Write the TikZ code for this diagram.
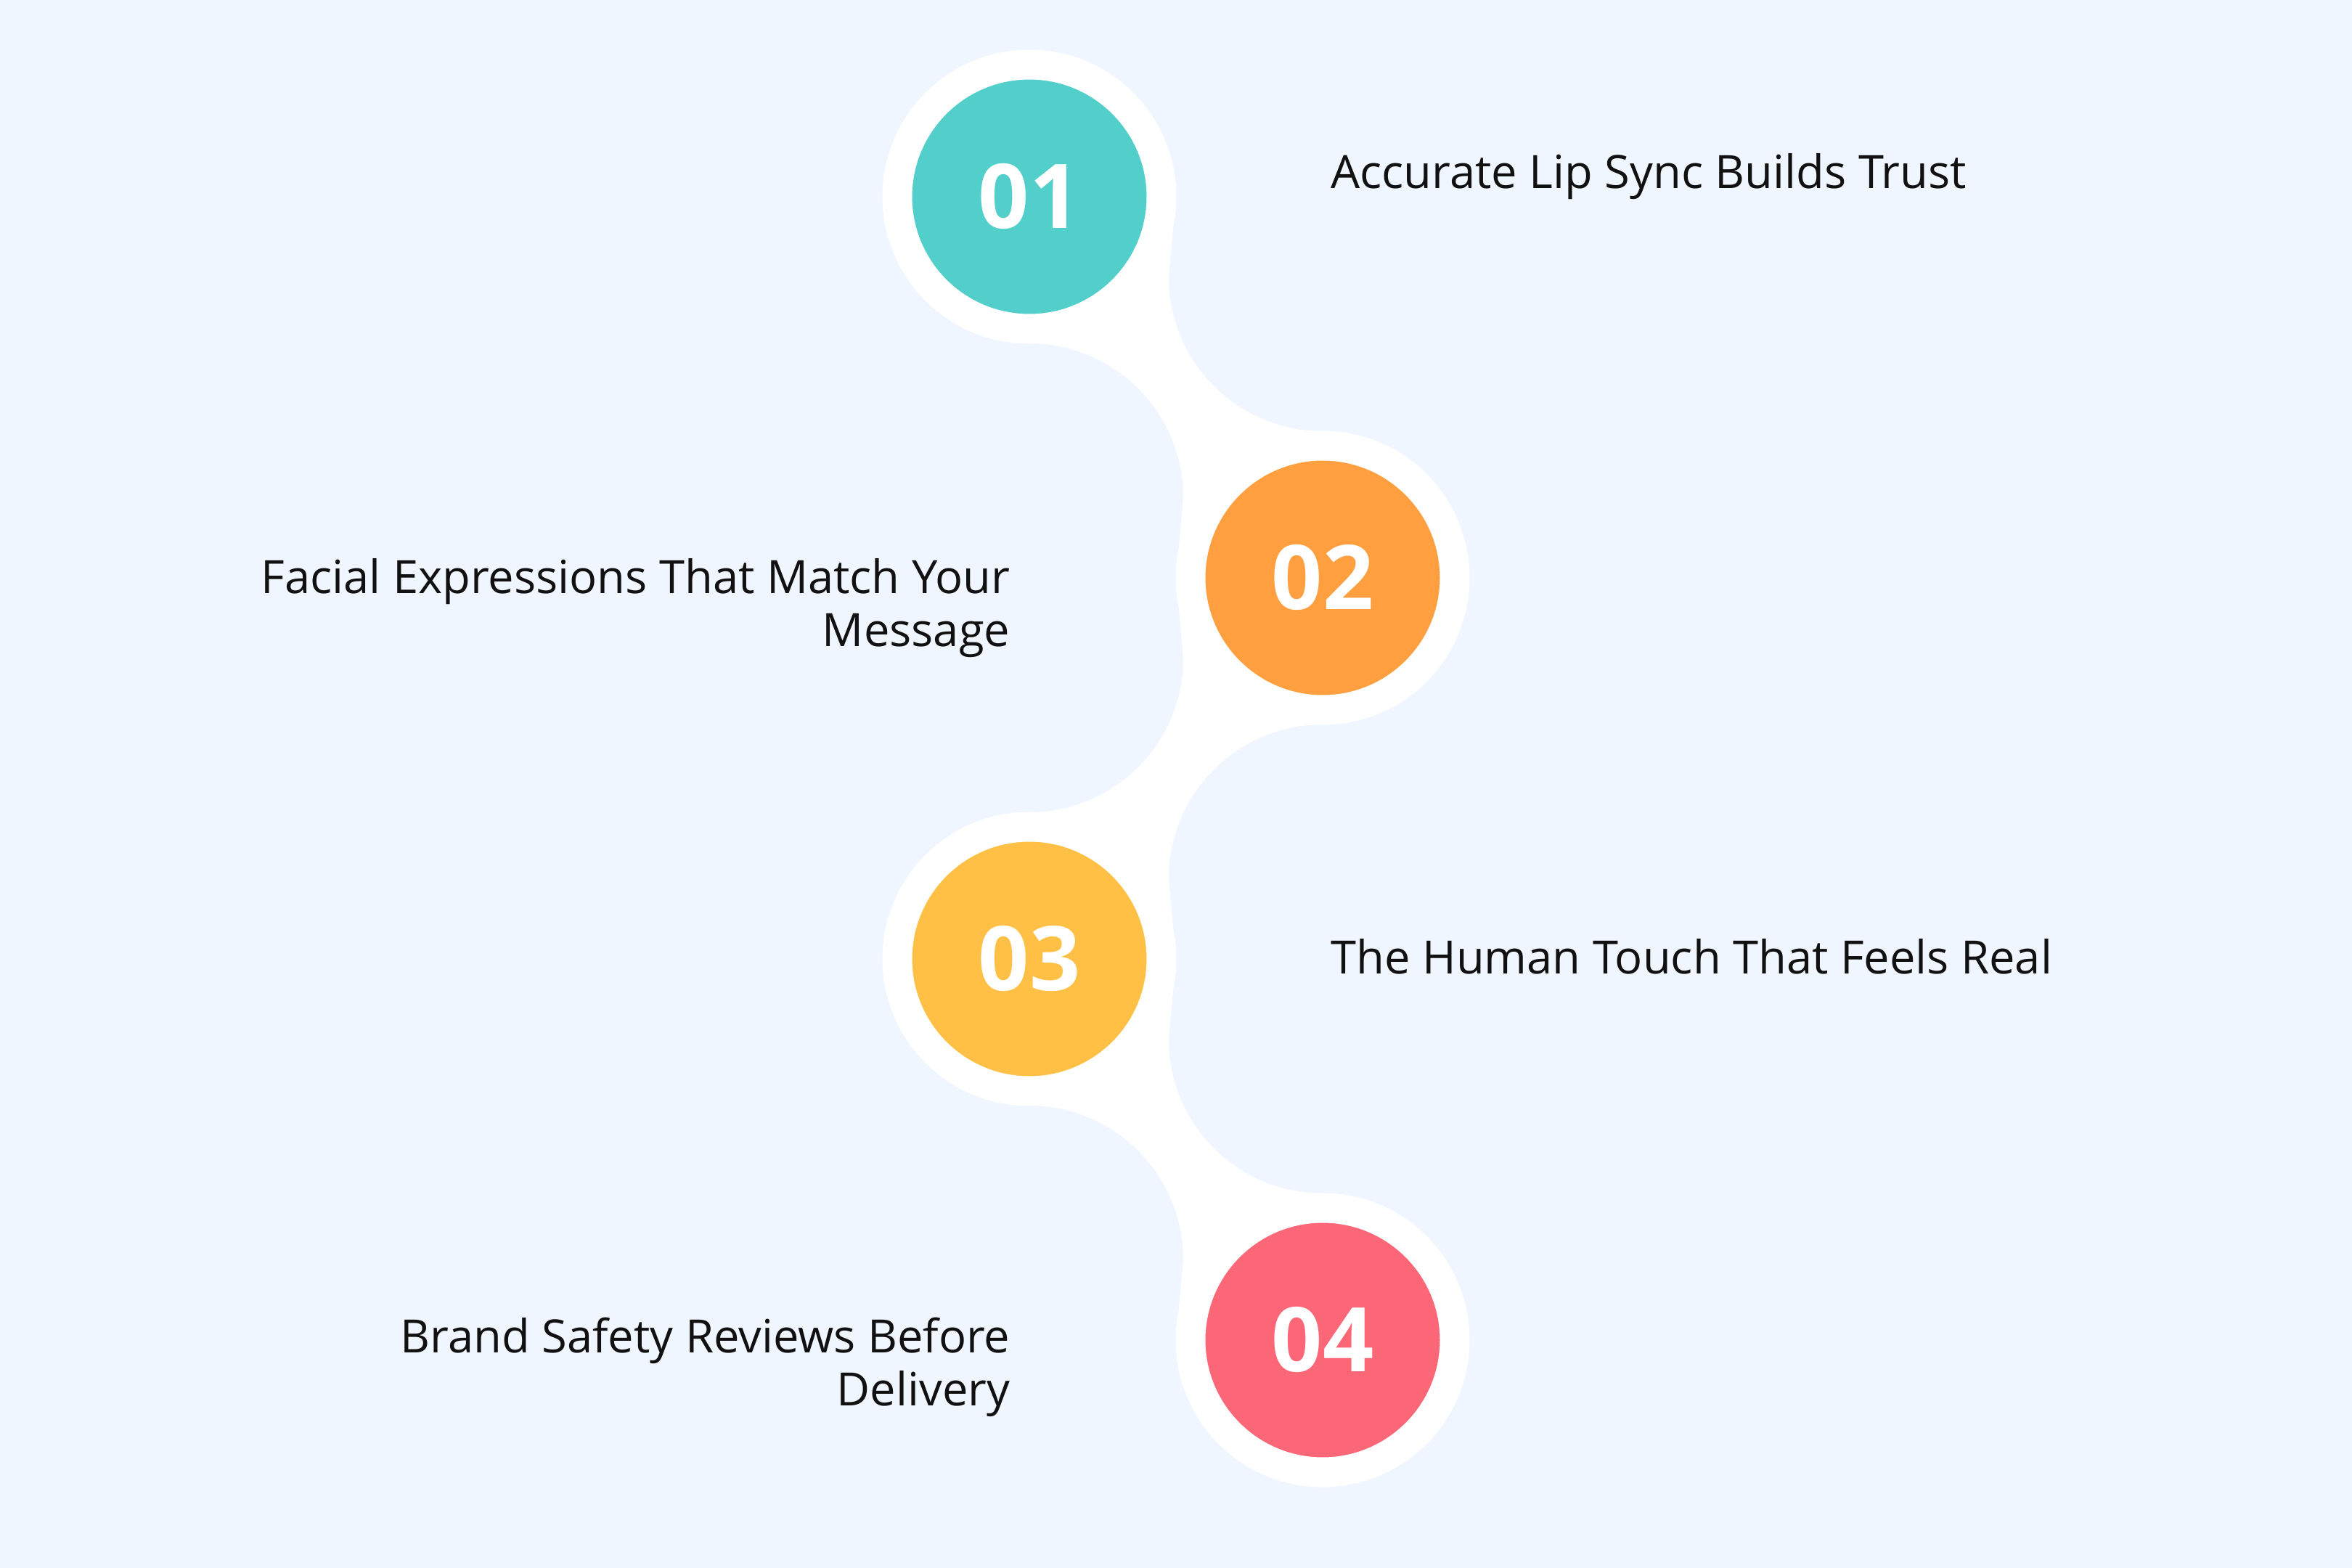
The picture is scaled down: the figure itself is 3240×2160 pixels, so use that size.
\documentclass[tikz,border=0pt]{standalone}
\usepackage{xcolor}
\usepackage{fontspec}
\setmainfont{Open Sans}
\usetikzlibrary{positioning, backgrounds}
\definecolor{flowTeal}{RGB}{82,207,202}
\definecolor{flowOrange}{RGB}{255,159,64}
\definecolor{flowAmber}{RGB}{255,192,69}
\definecolor{flowRose}{RGB}{252,103,119}
\definecolor{flowBg}{RGB}{240,246,255}
\definecolor{flowInk}{RGB}{17,17,17}

\begin{document}
\begin{tikzpicture}[
    x=0.1mm, y=0.1mm,
    badge/.style={circle, draw=white, line width=4.1mm, minimum size=36.4mm, inner sep=0pt, text=white, font=\fontsize{35}{35}\selectfont\bfseries},
    steptext/.style={text=flowInk, font=\fontsize{18}{20.5}\selectfont, inner sep=0pt},
    band/.style={fill=white},
    node distance=52.5mm and 40.4mm, on grid
]
    \node[badge, fill=flowTeal] (c1) at (1418,-271) {01};
    \node[badge, fill=flowOrange, below right=of c1] (c2) {02};
    \node[badge, fill=flowAmber, below left=of c2] (c3) {03};
    \node[badge, fill=flowRose, below right=of c3] (c4) {04};

    \node[steptext, anchor=base west] (t1) at (1833,-259) {Accurate Lip Sync Builds Trust};
    \node[steptext, anchor=base east, align=right] (t2) at (1392,-890) {Facial Expressions That Match Your\\Message};
    \node[steptext, anchor=base west] (t3) at (1833,-1341) {The Human Touch That Feels Real};
    \node[steptext, anchor=base east, align=right] (t4) at (1392,-1936) {Brand Safety Reviews Before\\Delivery};

    \begin{scope}[on background layer]
        \fill[flowBg] (0,0) rectangle (3240,-2160);
        \fill[band] (c1.center) -- ++(202,0) -- ++(-10,-111) arc[start angle=180, end angle=270, radius=21.2mm] -- (c2.center) -- ++(-202,0) -- ++(10,111) arc[start angle=0, end angle=90, radius=21.2mm] -- cycle;
        \fill[band] (c2.center) -- ++(-202,0) -- ++(10,-111) arc[start angle=0, end angle=-90, radius=21.2mm] -- (c3.center) -- ++(202,0) -- ++(-10,111) arc[start angle=180, end angle=90, radius=21.2mm] -- cycle;
        \fill[band] (c3.center) -- ++(202,0) -- ++(-10,-111) arc[start angle=180, end angle=270, radius=21.2mm] -- (c4.center) -- ++(-202,0) -- ++(10,111) arc[start angle=0, end angle=90, radius=21.2mm] -- cycle;
    \end{scope}
\end{tikzpicture}
\end{document}
